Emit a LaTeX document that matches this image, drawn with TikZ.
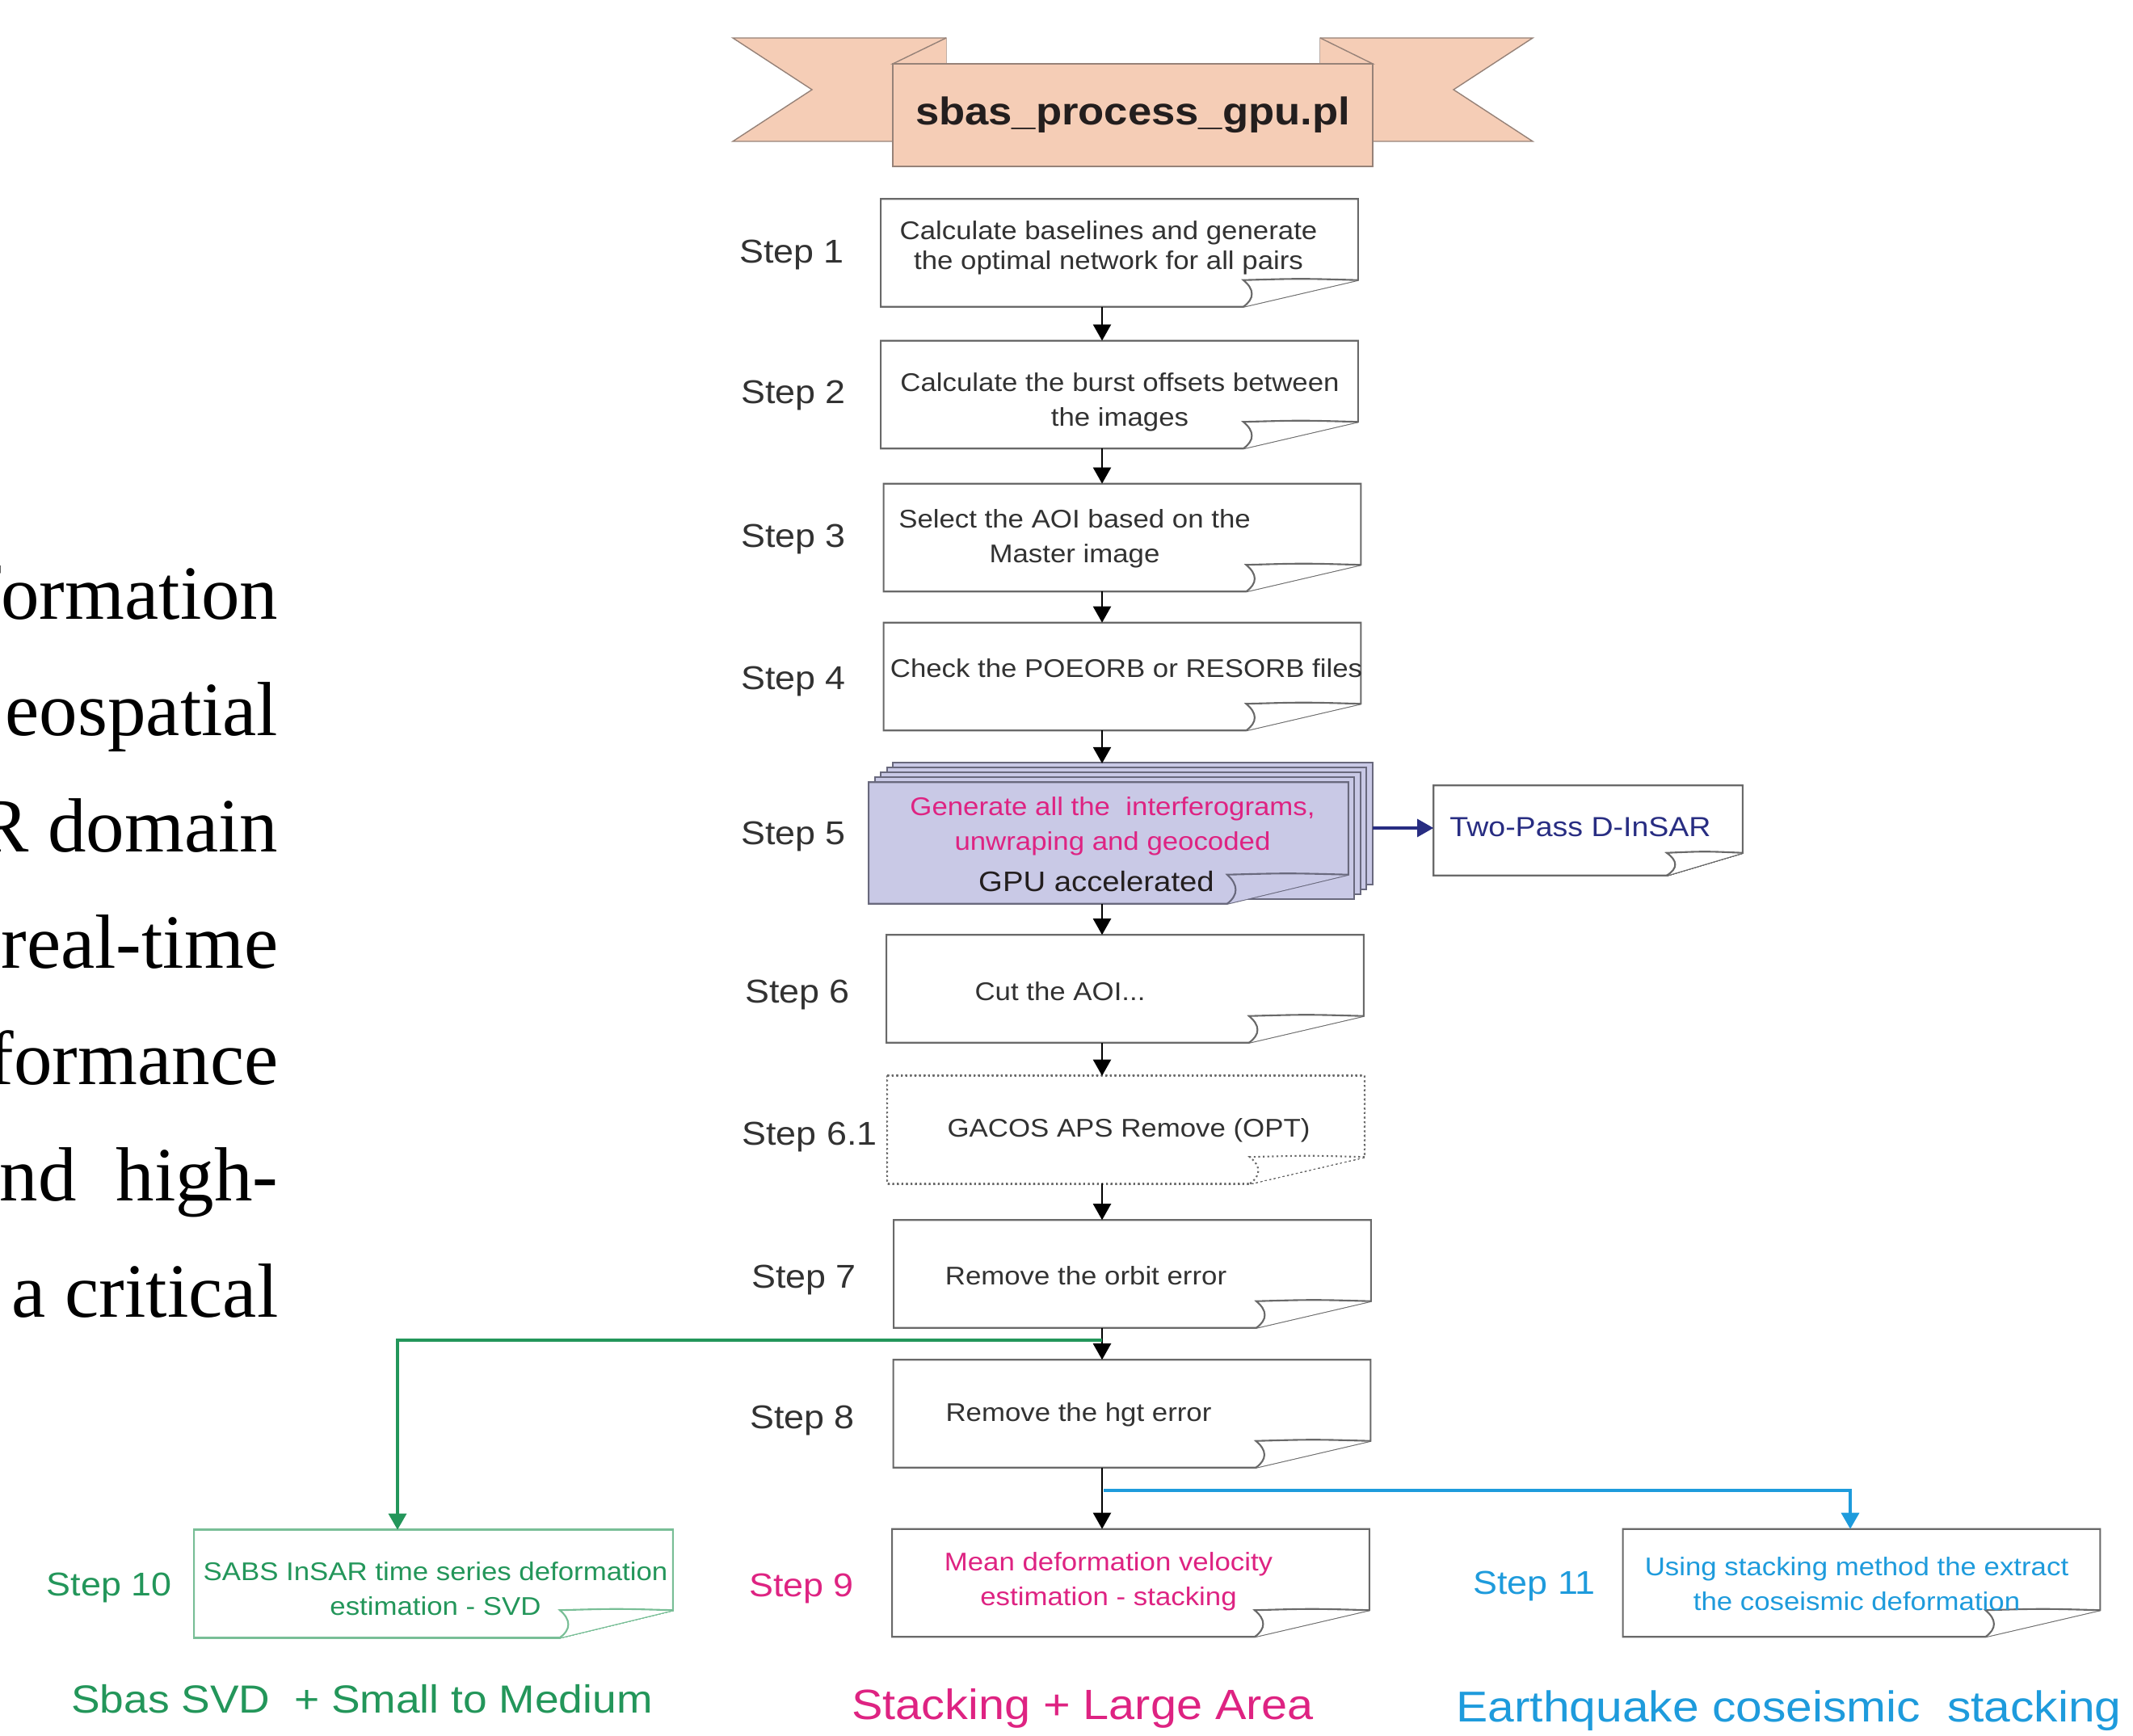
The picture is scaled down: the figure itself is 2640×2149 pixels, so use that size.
\documentclass[tikz,border=0pt]{standalone}
\usepackage{fontspec}
\setmainfont{Liberation Sans}[FakeStretch=1.1]
\newfontfamily\pagefont{Liberation Serif}
\usepackage{tikz}
\usetikzlibrary{arrows.meta,calc}

\definecolor{peach}{RGB}{245,205,182}
\definecolor{peachline}{RGB}{150,130,120}
\definecolor{lavender}{RGB}{201,201,230}
\definecolor{lavline}{RGB}{105,105,125}
\definecolor{boxline}{RGB}{105,105,105}
\definecolor{txtgray}{RGB}{50,50,50}
\definecolor{txtdark}{RGB}{35,30,30}
\definecolor{pinkish}{RGB}{222,35,130}
\definecolor{leafgreen}{RGB}{35,150,90}
\definecolor{mintline}{RGB}{120,190,150}
\definecolor{skyblue}{RGB}{30,155,220}
\definecolor{navy}{RGB}{40,45,130}

% paper sheet with a curled lower right corner: node, style, curl width, curl height
\newcommand{\docfold}[4]{%
  \draw[#2] (#1.north west) -- (#1.north east) -- ($(#1.south east)+(0,-#4)$)
    -- ($(#1.south east)+(-#3,0)$) -- (#1.south west) -- cycle;
  \draw[#2] ($(#1.south east)+(0,-#4)$)
    .. controls ($(#1.south east)+(-0.5*#3,-#4-2)$) .. ($(#1.south east)+(-#3,-#4)$)
    .. controls ($(#1.south east)+(-#3+14,-0.65*#4)$) and ($(#1.south east)+(-#3+14,-0.3*#4)$)
    .. ($(#1.south east)+(-#3,0)$);
}

\tikzset{
  box/.style={minimum width=5.89cm, minimum height=1.32cm, inner sep=0pt},
  frame/.style={draw=boxline, line width=0.6pt, fill=white},
  dotframe/.style={draw=boxline, densely dotted, line width=0.6pt, fill=white},
  stackframe/.style={draw=lavline, line width=0.6pt, fill=lavender},
  steplab/.style={anchor=base, inner sep=0pt, font=\fontsize{11.6}{13}\selectfont, text=txtgray},
  boxtext/.style={align=center, inner sep=0pt, font=\fontsize{9}{12.2}\selectfont, text=txtgray},
  caption/.style={inner sep=0pt, font=\fontsize{14.5}{16}\selectfont},
  pageline/.style={anchor=base east, inner sep=0pt, font=\pagefont\fontsize{27}{30}\selectfont},
  arr/.style={line width=0.8pt, -{Triangle[length=5.7pt,width=6.2pt]}},
}

\begin{document}
\begin{tikzpicture}[x=0.01cm, y=-0.01cm]
    \clip (0,0) rectangle (2640,2149);

    % page text cut off at the left
    \foreach \t [count=\i] in {formation, eospatial, R domain, real-time, formance, nd\hspace{14pt}high-, a critical}
        \node[pageline] (line\i) at (345,{622+144*\i}) {\t};

    % banner
    \draw[peachline, fill=peach] (907,47) -- (1171,47) -- (1171,175) -- (907,175) -- (1005,111) -- cycle;
    \draw[peachline, fill=peach] (1897,47) -- (1634,47) -- (1634,175) -- (1897,175) -- (1799,111) -- cycle;
    \draw[peachline, fill=peach] (1171,47) -- (1105,79) -- (1171,79);
    \draw[peachline, fill=peach] (1634,47) -- (1699,79) -- (1634,79);
    \node[draw=peachline, fill=peach, minimum width=5.94cm, minimum height=1.27cm, text=txtdark,
          font=\bfseries\fontsize{13.6}{16}\selectfont] (title) at (1402,142.5) {sbas\_process\_gpu.pl};

    % boxes
    \node[box] (s1) at (1385.5,313) {};
    \node[box] (s2) at (1385.5,488.5) {};
    \node[box] (s3) at (1389,665.5) {};
    \node[box] (s4) at (1389,837.5) {};
    \node[box, minimum width=5.92cm, minimum height=1.49cm] (s5) at (1372,1043.5) {};
    \node[box, minimum width=3.81cm, minimum height=1.10cm] (tp) at (1965.5,1028) {};
    \node[box] (s6) at (1392.5,1224) {};
    \node[box] (s61) at (1393.5,1398.5) {};
    \node[box] (s7) at (1401.5,1577) {};
    \node[box] (s8) at (1401,1750) {};
    \node[box] (s9) at (1399.5,1959.5) {};
    \node[box, minimum width=5.91cm] (s10) at (536.5,1960.5) {};
    \node[box] (s11) at (2304,1959.5) {};

    \foreach \n in {s1,s2,s3,s4,s6,s7,s8,s9,s11}
        \docfold{\n}{frame}{142}{33}
    \docfold{s61}{dotframe}{142}{33}
    \docfold{s10}{frame, draw=mintline}{140}{34}
    \docfold{tp}{frame}{94}{28}
    \foreach \k in {4,3,2,1}
        \draw[stackframe] ($(s5.north west)+(7.5*\k,-6*\k)$) rectangle ($(s5.south east)+(7.5*\k,-6*\k)$);
    \docfold{s5}{stackframe}{150}{36}

    % box texts
    \node[boxtext, font=\fontsize{9}{10.5}\selectfont] (t1) at (1372,307) {Calculate baselines and generate\\the optimal network for all pairs};
    \node[boxtext] (t2) at (1386,498) {Calculate the burst offsets between\\the images};
    \node[boxtext] (t3) at (1330,667) {Select the AOI based on the\\Master image};
    \node[boxtext] (t4) at (1394,827) {Check the POEORB or RESORB files};
    \node[boxtext, text=pinkish] (t5) at (1377,1023) {Generate all the~ interferograms,\\unwraping and geocoded};
    \node[boxtext, text=txtdark, font=\fontsize{9.9}{12}\selectfont] (g5) at (1357,1091) {GPU accelerated};
    \node[boxtext, text=navy, font=\fontsize{9.7}{12}\selectfont] (ttp) at (1956,1024) {Two-Pass D-InSAR};
    \node[boxtext] (t6) at (1312,1227) {Cut the AOI...};
    \node[boxtext] (t61) at (1397,1399) {GACOS APS Remove (OPT)};
    \node[boxtext] (t7) at (1344,1579) {Remove the orbit error};
    \node[boxtext] (t8) at (1335,1751) {Remove the hgt error};
    \node[boxtext, text=pinkish] (t9) at (1372,1958) {Mean deformation velocity\\estimation - stacking};
    \node[boxtext, text=leafgreen] (t10) at (539,1967) {SABS InSAR time series deformation\\estimation - SVD};
    \node[boxtext, text=skyblue] (t11) at (2298,1961) {Using stacking method the extract\\the coseismic deformation};

    % step labels
    \node[steplab] (l1) at (980,326) {Step 1};
    \node[steplab] (l2) at (982,500) {Step 2};
    \node[steplab] (l3) at (982,677) {Step 3};
    \node[steplab] (l4) at (982,853) {Step 4};
    \node[steplab] (l5) at (982,1045) {Step 5};
    \node[steplab] (l6) at (987,1241) {Step 6};
    \node[steplab] (l61) at (1002,1417) {Step 6.1};
    \node[steplab] (l7) at (995,1594) {Step 7};
    \node[steplab] (l8) at (993,1768) {Step 8};
    \node[steplab, text=pinkish] (l9) at (992,1976) {Step 9};
    \node[steplab, text=leafgreen] (l10) at (135,1975) {Step 10};
    \node[steplab, text=skyblue] (l11) at (1899,1973) {Step 11};

    % captions
    \node[caption, text=leafgreen, font=\fontsize{13.8}{16}\selectfont] (c10) at (448,2103) {Sbas SVD~ + Small to Medium};
    \node[caption, text=pinkish, font=\fontsize{14.9}{17}\selectfont] (c9) at (1340,2115) {Stacking + Large Area};
    \node[caption, text=skyblue, font=\fontsize{15.2}{17}\selectfont] (c11) at (2214,2118) {Earthquake coseismic~ stacking};

    % connectors
    \coordinate (col) at (1364,0);
    \coordinate (s5top) at (1364,945);
    \foreach \a/\b in {s1/s2, s2/s3, s3/s4, s5/s6, s6/s61, s61/s7, s7/s8, s8/s9}
        \draw[arr] (\a.south -| col) -- (\b.north -| col);
    \draw[arr] (s4.south -| col) -- (s5top);

    \coordinate (s5out) at (1699,1025);
    \draw[arr, navy, line width=1pt] (s5out) -- (s5out -| tp.west);

    \coordinate (gsplit) at (1364,1659);
    \coordinate (gturn) at (492,1659);
    \draw[arr, leafgreen, line width=1.1pt] (gsplit) -- (gturn) -- (gturn |- s10.north);

    \coordinate (bsplit) at (1366,1845);
    \coordinate (bturn) at (2290,1845);
    \draw[arr, skyblue, line width=1.1pt] (bsplit) -- (bturn) -- (bturn |- s11.north);
\end{tikzpicture}
\end{document}
